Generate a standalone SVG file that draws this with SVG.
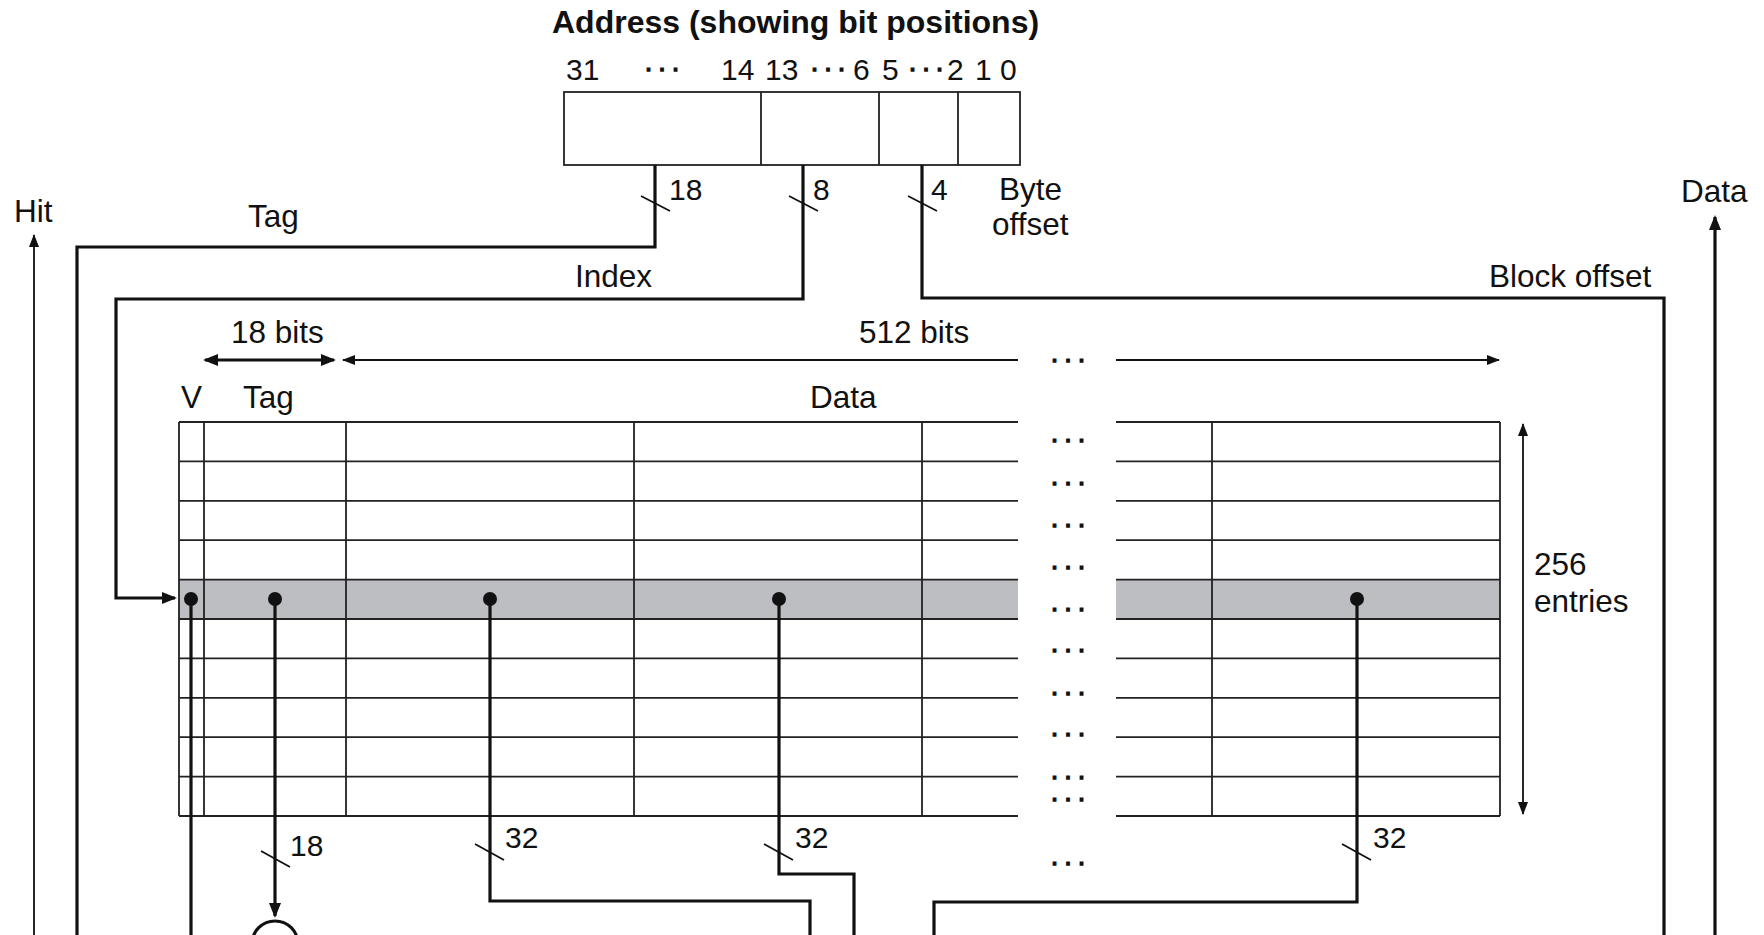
<svg xmlns="http://www.w3.org/2000/svg" width="1764" height="935" viewBox="0 0 1764 935">
<defs>
<marker id="ah" viewBox="0 0 15 12" refX="13" refY="6" markerWidth="15" markerHeight="12" markerUnits="userSpaceOnUse" orient="auto-start-reverse"><path d="M0,0 L15,6 L0,12 z" fill="#111"/></marker>
<marker id="aht" viewBox="0 0 13 10" refX="12" refY="5" markerWidth="13" markerHeight="10" markerUnits="userSpaceOnUse" orient="auto-start-reverse"><path d="M0,0 L13,5 L0,10 z" fill="#111"/></marker>
</defs>
<style>
text { font-family: "Liberation Sans", Arial, Helvetica, sans-serif; fill: #111; }
.lbl { font-size: 31.5px; }
.num { font-size: 30px; }
.title { font-size: 32px; font-weight: bold; }
.ell { font-size: 18px; letter-spacing: 7.5px; font-weight: bold; stroke: #111; stroke-width: 1.3px; }
.wire { fill: none; stroke: #111; stroke-width: 3.2; stroke-linejoin: miter; }
.thin { fill: none; stroke: #111; stroke-width: 1.8; }
.grid { fill: none; stroke: #222; stroke-width: 1.8; }
.hl { fill: #BDBEC2; }
.dot { fill: #111; }
</style>
<rect width="1764" height="935" fill="#fff"/>

<g id="address">
  <text class="title" x="552" y="33">Address (showing bit positions)</text>
  <text class="num" x="566" y="80">31</text>
  <text class="ell" x="646" y="75.5">···</text>
  <text class="num" x="721" y="80">14</text>
  <text class="num" x="765" y="80">13</text>
  <text class="ell" x="812" y="75.5">···</text>
  <text class="num" x="853" y="80">6</text>
  <text class="num" x="882" y="80">5</text>
  <text class="ell" x="910" y="75.5">···</text>
  <text class="num" x="947" y="80">2</text>
  <text class="num" x="975" y="80">1</text>
  <text class="num" x="1000" y="80">0</text>
  <rect class="grid" x="564" y="92" width="456" height="73"/>
  <path class="grid" d="M761,92V165M879,92V165M958,92V165"/>
</g>

<g id="cache-table">
  <rect class="hl" x="179" y="579.6" width="839" height="39.4"/>
  <rect class="hl" x="1116" y="579.6" width="384" height="39.4"/>
  <path class="grid" d="M179,422H1018M179,461.4H1018M179,500.8H1018M179,540.2H1018M179,579.6H1018M179,619H1018M179,658.4H1018M179,697.8H1018M179,737.2H1018M179,776.6H1018M179,816H1018"/>
  <path class="grid" d="M1116,422H1500M1116,461.4H1500M1116,500.8H1500M1116,540.2H1500M1116,579.6H1500M1116,619H1500M1116,658.4H1500M1116,697.8H1500M1116,737.2H1500M1116,776.6H1500M1116,816H1500"/>
  <path class="grid" d="M179,422V816M204,422V816M346,422V816M634,422V816M922,422V816M1212,422V816M1500,422V816"/>
  <text class="lbl" x="181" y="408">V</text>
  <text class="lbl" x="243" y="408">Tag</text>
  <text class="lbl" x="810" y="408">Data</text>
  <text class="ell" x="1052" y="446.5">···</text>
  <text class="ell" x="1052" y="489.5">···</text>
  <text class="ell" x="1052" y="531.5">···</text>
  <text class="ell" x="1052" y="573.5">···</text>
  <text class="ell" x="1052" y="615.5">···</text>
  <text class="ell" x="1052" y="656.5">···</text>
  <text class="ell" x="1052" y="699.5">···</text>
  <text class="ell" x="1052" y="740.5">···</text>
  <text class="ell" x="1052" y="783.5">···</text>
  <text class="ell" x="1052" y="805.5">···</text>
  <circle class="dot" cx="191" cy="599" r="7"/>
  <circle class="dot" cx="275" cy="599" r="7"/>
  <circle class="dot" cx="490" cy="599" r="7"/>
  <circle class="dot" cx="779" cy="599" r="7"/>
  <circle class="dot" cx="1357" cy="599" r="7"/>
</g>

<g id="dimensions">
  <text class="lbl" x="231" y="343">18 bits</text>
  <line class="wire" x1="205" y1="360" x2="334" y2="360" marker-start="url(#ah)" marker-end="url(#ah)"/>
  <text class="lbl" x="859" y="343">512 bits</text>
  <line class="thin" x1="343" y1="360" x2="1018" y2="360" marker-start="url(#aht)"/>
  <text class="ell" x="1052" y="366.5">···</text>
  <line class="thin" x1="1116" y1="360" x2="1499" y2="360" marker-end="url(#aht)"/>
  <line class="thin" x1="1523" y1="424" x2="1523" y2="814" marker-start="url(#aht)" marker-end="url(#aht)"/>
  <text class="lbl" x="1534" y="575">256</text>
  <text class="lbl" x="1534" y="612">entries</text>
</g>

<g id="comparator">
  <circle class="wire" cx="275" cy="944" r="23" stroke-width="2.6"/>
</g>

<g id="connectors">
  <path class="wire" d="M655,165V247H77V935"/>
  <path class="wire" d="M803,165V299H116V598H175" marker-end="url(#ah)"/>
  <path class="wire" d="M922,165V298H1664V935"/>
  <line class="thin" x1="34" y1="935" x2="34" y2="235" marker-end="url(#aht)"/>
  <line class="wire" x1="1715" y1="935" x2="1715" y2="217" marker-end="url(#ah)"/>
  <path class="wire" d="M191,599V935"/>
  <path class="wire" d="M275,599V916" marker-end="url(#ah)"/>
  <path class="wire" d="M490,599V901H810V935"/>
  <path class="wire" d="M779,599V874H854V935"/>
  <path class="wire" d="M1357,599V902H934V935"/>
  <path class="thin" stroke-width="2.4" d="M641,196L670,211M789,196L818,211M908,196L937,211M261,851L290,867M475,844L504,860M764,844L793,860M1342,844L1371,860"/>
</g>

<g id="labels">
  <text class="num" x="669" y="200">18</text>
  <text class="num" x="813" y="200">8</text>
  <text class="num" x="931" y="200">4</text>
  <text class="lbl" x="999" y="200">Byte</text>
  <text class="lbl" x="992" y="235">offset</text>
  <text class="lbl" x="14" y="222">Hit</text>
  <text class="lbl" x="248" y="227">Tag</text>
  <text class="lbl" x="575" y="287">Index</text>
  <text class="lbl" x="1489" y="287">Block offset</text>
  <text class="lbl" x="1681" y="202">Data</text>
  <text class="num" x="290" y="856">18</text>
  <text class="num" x="505" y="848">32</text>
  <text class="num" x="795" y="848">32</text>
  <text class="num" x="1373" y="848">32</text>
  <text class="ell" x="1052" y="869.5">···</text>
</g>
</svg>
